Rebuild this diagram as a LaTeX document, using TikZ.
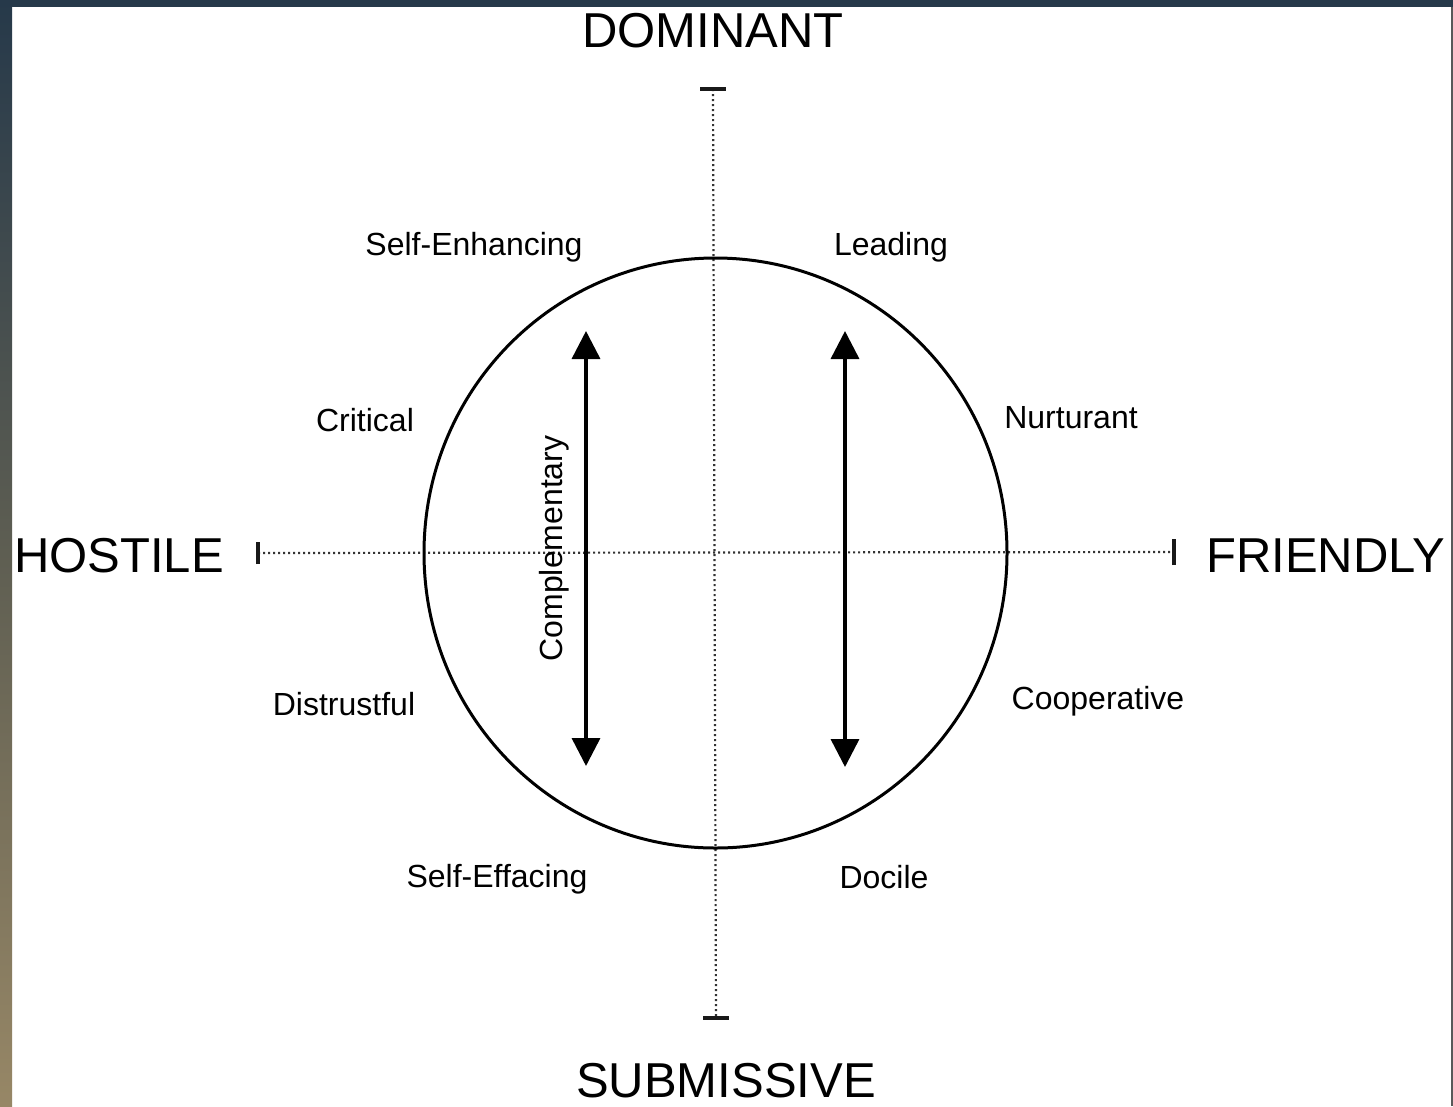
\documentclass[tikz,border=0pt]{standalone}
\usepackage{fontspec}
\setmainfont{Liberation Sans}
\usetikzlibrary{arrows.meta}
\definecolor{navy}{HTML}{26394A}
\definecolor{tan}{HTML}{978766}
\definecolor{murk}{HTML}{5E5E52}
\begin{document}
\begin{tikzpicture}[x=1pt,y=-1pt,
  axislabel/.style={font=\fontsize{49}{55}\selectfont, inner sep=0pt, anchor=base},
  trait/.style={font=\fontsize{32}{36}\selectfont, inner sep=0pt, anchor=base},
  axisline/.style={line width=2.2pt, black!80, dash pattern=on 2pt off 3pt},
  tickmark/.style={line width=3.5pt, black!90},
  dual/.style={line width=3.5pt, {Triangle[width=28pt,length=28pt]}-{Triangle[width=28pt,length=28pt]}}]
% frame and backdrop
\useasboundingbox (0,0) rectangle (1453,1106);
\fill[white] (0,0) rectangle (1453,1106);
\shade[top color=navy, bottom color=tan, middle color=murk] (0,0) rectangle (12,1106);
\fill[navy] (0,0) rectangle (1453,7);
\fill[black!65] (1451,7) rectangle (1453,1106);

% axis end points
\coordinate (top) at (713,89);
\coordinate (bottom) at (716,1018);
\coordinate (left) at (258,553);
\coordinate (right) at (1174,552);

% dotted axes
\draw[axisline] (top) -- (bottom);
\draw[axisline] (left) -- (right);
% end ticks
\draw[tickmark] ([xshift=-13pt]top) -- ([xshift=13pt]top);
\draw[tickmark] ([xshift=-13pt]bottom) -- ([xshift=13pt]bottom);
\draw[tickmark] ([yshift=-11pt]left) -- ([yshift=11pt]left);
\draw[tickmark] ([yshift=-13pt]right) -- ([yshift=13pt]right);

% interpersonal circle
\node (centre) at (715.5,553) {};
\draw[line width=3pt] (centre.center) ellipse [x radius=291.5, y radius=295];

% complementarity arrows
\coordinate (la) at (586,331);
\coordinate (lb) at (586,766);
\coordinate (ra) at (845,331);
\coordinate (rb) at (845,767);
\draw[dual] (la) -- (lb);
\draw[dual] (ra) -- (rb);
\node[trait, rotate=90] (compl) at (562,548.5) {Complementary};

% axis poles
\node[axislabel] (dom) at (713,47) {DOMINANT};
\node[axislabel] (sub) at (726,1097) {SUBMISSIVE};
\node[axislabel, anchor=base west] (hos) at (14,572) {HOSTILE};
\node[axislabel, anchor=base west] (fri) at (1206,572) {FRIENDLY};

% octant traits
\node[trait] (senh) at (474,255) {Self-Enhancing};
\node[trait] (lead) at (891,255) {Leading};
\node[trait] (crit) at (365,431) {Critical};
\node[trait] (nurt) at (1071,428) {Nurturant};
\node[trait] (dist) at (344,715) {Distrustful};
\node[trait] (coop) at (1098,709) {Cooperative};
\node[trait] (seff) at (497,887) {Self-Effacing};
\node[trait] (doci) at (884,888) {Docile};
\end{tikzpicture}
\end{document}
